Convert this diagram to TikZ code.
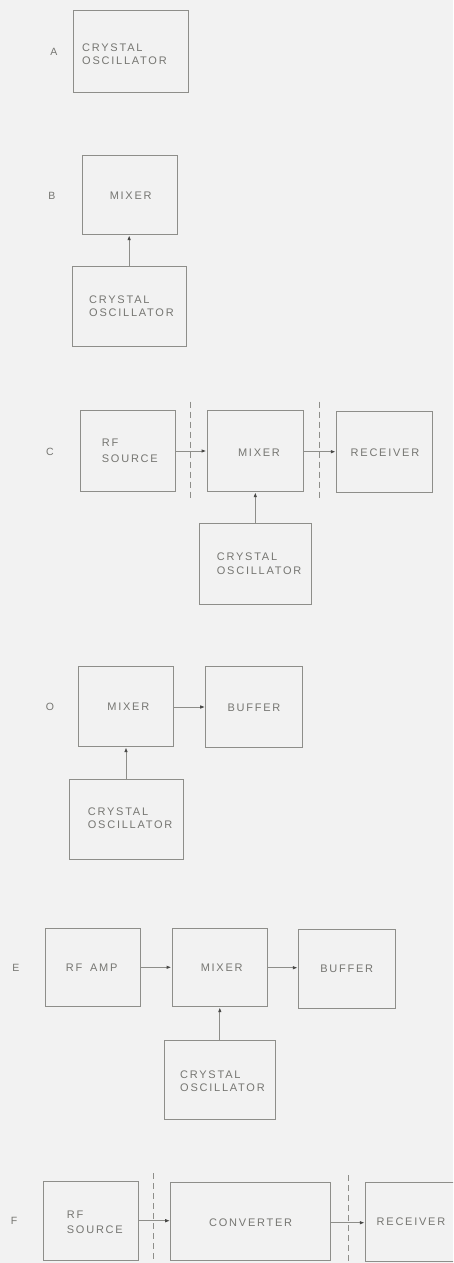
\documentclass[tikz,border=0pt]{standalone}
\usepackage{fontspec}
\setmainfont{Liberation Sans}[LetterSpace=16]
\usetikzlibrary{fit,arrows.meta}
\definecolor{bg}{HTML}{F2F2F2}
\definecolor{linec}{HTML}{8E8E8A}
\definecolor{textc}{HTML}{767672}
\definecolor{arrc}{HTML}{4A4A48}
\tikzset{
  box/.style={draw=linec, line width=1pt, inner sep=0pt, rectangle},
  txt/.style={text=textc, font=\fontsize{11}{13.5}\selectfont, inner sep=0pt, align=left},
  lbl/.style={text=textc, font=\fontsize{10.5}{12}\selectfont, inner sep=0pt},
  arr/.style={draw=linec, line width=1pt, -{Latex[length=5pt,width=3.6pt,color=arrc]}},
  sep/.style={draw=linec, line width=1pt, dash pattern=on 6pt off 4pt}
}
\begin{document}
\begin{tikzpicture}[x=1pt,y=-1pt]
\fill[bg] (0,0) rectangle (453,1263);
\useasboundingbox (0,0) rectangle (453,1263);
\clip (0,0) rectangle (453,1263);

% ---- A ----
\node[lbl] (labA) at (54,51.7) {A};
\node[box, fit={(73.3,10.7) (188.7,92)}] (oscA) {};
\node[txt, anchor=west] (toscA) at (82,54) {CRYSTAL\\OSCILLATOR};

% ---- B ----
\node[lbl] (labB) at (52,195.7) {B};
\node[box, fit={(82,155) (177.7,234.7)}] (mixB) {};
\node[txt] (tmixB) at (130.7,195.6) {MIXER};
\node[box, fit={(72.3,266) (186,346)}] (oscB) {};
\node[txt, anchor=west] (toscB) at (89,306.3) {CRYSTAL\\OSCILLATOR};
\draw[arr] (oscB.north) -- (oscB.north |- mixB.south);

% ---- C ----
\node[lbl] (labC) at (50,451.7) {C};
\node[box, fit={(80,410) (175.3,491)}] (rfC) {};
\node[txt, anchor=west, font=\fontsize{11}{15.6}\selectfont] (trfC) at (101.7,450.5) {RF\\SOURCE};
\node[box, fit={(207,410.7) (303.3,491.7)}] (mixC) {};
\node[txt] (tmixC) at (259,452.3) {MIXER};
\node[box, fit={(336.3,411) (432,492.3)}] (recC) {};
\node[txt] (trecC) at (385,453) {RECEIVER};
\node[box, fit={(199.3,523.7) (311.3,604)}] (oscC) {};
\node[txt, anchor=west] (toscC) at (216.7,563.8) {CRYSTAL\\OSCILLATOR};
\coordinate (dC1a) at (190.7,401.7);
\coordinate (dC1b) at (190.7,499);
\coordinate (dC2a) at (319.7,401.7);
\coordinate (dC2b) at (319.7,499);
\draw[sep] (dC1a) -- (dC1b);
\draw[sep] (dC2a) -- (dC2b);
\draw[arr] (rfC.east |- 0,451) -- (mixC.west |- 0,451);
\draw[arr] (mixC.east |- 0,451.7) -- (recC.west |- 0,451.7);
\draw[arr] (oscC.north) -- (oscC.north |- mixC.south);

% ---- D ----
\node[lbl] (labD) at (50,706.7) {O};
\node[box, fit={(78.3,666) (173.7,746.7)}] (mixD) {};
\node[txt] (tmixD) at (128.3,706.7) {MIXER};
\node[box, fit={(205.7,666) (302.3,747.7)}] (bufD) {};
\node[txt] (tbufD) at (254,707.3) {BUFFER};
\node[box, fit={(69,779.3) (183,859)}] (oscD) {};
\node[txt, anchor=west] (toscD) at (87.7,818) {CRYSTAL\\OSCILLATOR};
\draw[arr] (mixD.east |- 0,707) -- (bufD.west |- 0,707);
\draw[arr] (oscD.north) -- (oscD.north |- mixD.south);

% ---- E ----
\node[lbl] (labE) at (16,968) {E};
\node[box, fit={(45,928) (140,1006)}] (rfE) {};
\node[txt] (trfE) at (91.7,967.7) {RF \hspace{3pt}AMP};
\node[box, fit={(172,928.3) (267.3,1006.7)}] (mixE) {};
\node[txt] (tmixE) at (221.7,967.7) {MIXER};
\node[box, fit={(298.3,929.3) (395.7,1008)}] (bufE) {};
\node[txt] (tbufE) at (346.7,969) {BUFFER};
\node[box, fit={(164.3,1040) (275.3,1119)}] (oscE) {};
\node[txt, anchor=west] (toscE) at (180,1081) {CRYSTAL\\OSCILLATOR};
\draw[arr] (rfE.east |- 0,967.3) -- (mixE.west |- 0,967.3);
\draw[arr] (mixE.east |- 0,967.7) -- (bufE.west |- 0,967.7);
\draw[arr] (oscE.north) -- (oscE.north |- mixE.south);

% ---- F ----
\node[lbl] (labF) at (14,1221) {F};
\node[box, fit={(43.7,1181.7) (138.7,1260)}] (rfF) {};
\node[txt, anchor=west, font=\fontsize{11}{15}\selectfont] (trfF) at (66.7,1221.8) {RF\\SOURCE};
\node[box, fit={(170.7,1182.3) (330.7,1260.7)}] (convF) {};
\node[txt] (tconvF) at (250.7,1222.7) {CONVERTER};
\node[box, fit={(365.3,1182.7) (462,1261)}] (recF) {};
\node[txt] (trecF) at (411,1222) {RECEIVER};
\coordinate (dF1a) at (153.7,1173.3);
\coordinate (dF1b) at (153.7,1263);
\coordinate (dF2a) at (348.7,1175);
\coordinate (dF2b) at (348.7,1263);
\draw[sep] (dF1a) -- (dF1b);
\draw[sep] (dF2a) -- (dF2b);
\draw[arr] (rfF.east |- 0,1220.7) -- (convF.west |- 0,1220.7);
\draw[arr] (convF.east |- 0,1222.7) -- (recF.west |- 0,1222.7);
\end{tikzpicture}
\end{document}
